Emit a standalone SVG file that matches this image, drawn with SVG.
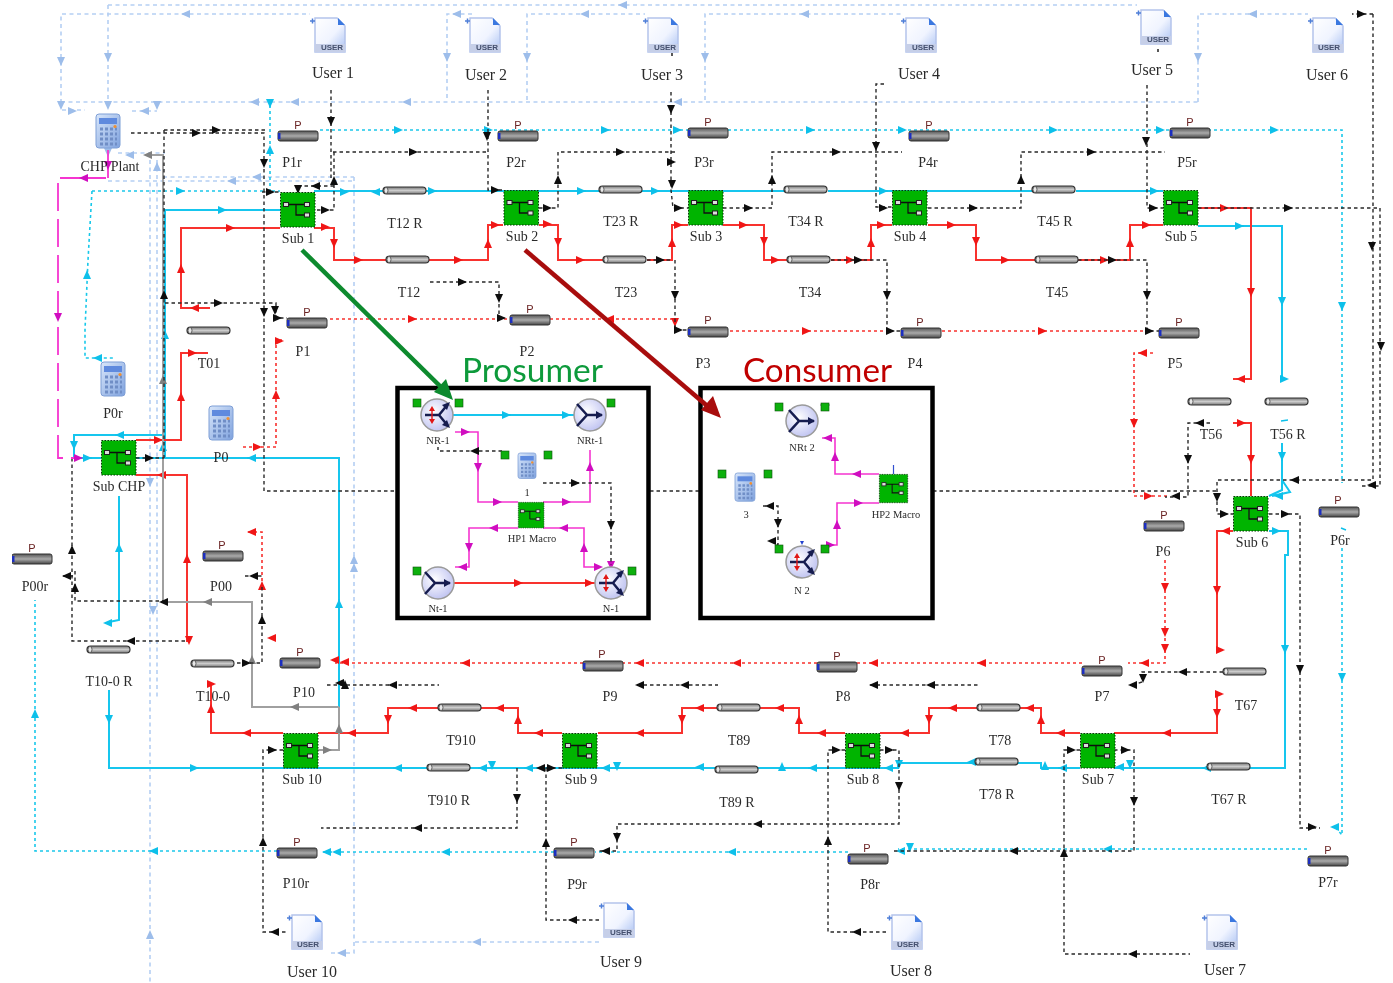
<svg xmlns="http://www.w3.org/2000/svg" width="1393" height="983" viewBox="0 0 1393 983">
<style>
path{fill:none}
.bd{stroke:#b5cff3;stroke-width:1.6;stroke-dasharray:4 3.5}
.cd{stroke:#18c8ea;stroke-width:1.6;stroke-dasharray:3 3}
.cs{stroke:#12c6ee;stroke-width:2}
.rs{stroke:#f8302e;stroke-width:2}
.rd{stroke:#f8302e;stroke-width:1.6;stroke-dasharray:3 3}
.gs{stroke:#a0a0a0;stroke-width:2}
.k{stroke:#2a2a2a;stroke-width:1.4;stroke-dasharray:3.5 3}
.ms{stroke:#f535d0;stroke-width:1.8}
.md{stroke:#f535d0;stroke-width:1.8;stroke-dasharray:28 8}
.mi{stroke:#f535d0;stroke-width:1.6}
.fb{fill:#9dbdea}.fc{fill:#10c0ea}.fr{fill:#f01818}.fg{fill:#808080}.fk{fill:#111}.fm{fill:#d010c0}
text{font-family:"Liberation Serif","Times New Roman",serif;fill:#2b2b2b;text-anchor:middle;dominant-baseline:central}
.t{font-size:14px}.u{font-size:16px}.s{font-size:10.5px}
.p{font-family:"Liberation Sans",Arial,sans-serif;font-size:11px;fill:#6a2424}
.ue{font-family:"Liberation Sans",Arial,sans-serif;font-size:8px;font-weight:bold;fill:#44506e}
.big{font-family:Lato,"Open Sans",sans-serif;font-size:33px;text-anchor:start;dominant-baseline:auto}
.box{fill:#fff;stroke:#000;stroke-width:4.5}
.sq{fill:#10b010;stroke:#0a500a;stroke-width:.6}
</style>
<defs>
<filter id="soft" x="0" y="0" width="100%" height="100%"><feGaussianBlur stdDeviation=".4"/></filter>
<polygon id="r" points="-4,-4 5,0 -4,4"/>
<polygon id="l" points="4,-4 -5,0 4,4"/>
<polygon id="u" points="-4,4 0,-5 4,4"/>
<polygon id="d" points="-4,-4 0,5 4,-4"/>
<linearGradient id="dg" x1="0" y1="0" x2="0" y2="1"><stop offset="0" stop-color="#555"/><stop offset=".5" stop-color="#aaa"/><stop offset="1" stop-color="#444"/></linearGradient>
<linearGradient id="lg" x1="0" y1="0" x2="0" y2="1"><stop offset="0" stop-color="#777"/><stop offset=".5" stop-color="#ccc"/><stop offset="1" stop-color="#777"/></linearGradient>
<linearGradient id="ug" x1="0" y1="0" x2="1" y2="1"><stop offset="0" stop-color="#fff"/><stop offset=".55" stop-color="#f0f4ff"/><stop offset="1" stop-color="#a8c0f2"/></linearGradient>
<linearGradient id="cg" x1="0" y1="0" x2="1" y2="1"><stop offset="0" stop-color="#d8e6fa"/><stop offset="1" stop-color="#7fa2de"/></linearGradient>
<radialGradient id="ng" cx=".4" cy=".4" r=".7"><stop offset="0" stop-color="#fff"/><stop offset="1" stop-color="#b9bdf0"/></radialGradient>
<g id="pd"><rect x="0" y="0" width="40" height="10" rx="2" fill="url(#dg)" stroke="#333"/><rect x="0" y="2" width="2.5" height="6" fill="#1a2fc0"/></g>
<g id="pl"><rect x="0" y="0" width="43" height="7" rx="3.5" fill="url(#lg)" stroke="#333" stroke-width="1.2"/><ellipse cx="3" cy="3.5" rx="2" ry="3" fill="#e8e8e8" stroke="#444" stroke-width=".8"/></g>
<g id="sub"><rect x=".5" y=".5" width="34.500" height="34.500" fill="#00b400" stroke="#0a300a" stroke-dasharray="1.500 1.500"/><path d="M6 12.500H27M16 12.500V23H27" stroke="#111" stroke-width="1.300"/><rect x="3.500" y="10.500" width="5" height="4" fill="#ddd" stroke="#222"/><rect x="24.500" y="10.500" width="5" height="4" fill="#ddd" stroke="#222"/><rect x="24.500" y="21" width="5" height="4" fill="#ddd" stroke="#222"/></g>
<g id="usr"><path d="M2 1H24L32 9V35H2Z" style="fill:url(#ug)" stroke="#b4c4ec" stroke-width="1.500"/><path d="M25 1L32 8H25Z" style="fill:#3a78e0"/><rect x="2" y="27" width="30" height="8" fill="#c6cfe8"/><path d="M-3 4H2M-.5 1.500V6.500" stroke="#4f7fd8" stroke-width="1.500"/></g>
<g id="cal"><rect x="0" y="0" width="24" height="34" rx="3" fill="url(#cg)" stroke="#7f9fd6"/><rect x="3" y="4" width="18" height="6" fill="#5f8ade"/><path d="M4 15H21M4 20H21M4 25H21M4 30H21" stroke="#6f8ec6" stroke-width="3" stroke-dasharray="3 2"/><circle cx="19" cy="12.500" r="1.600" fill="#f09030"/></g>
<g id="n3"><circle r="16" fill="url(#ng)" stroke="#9a9a9a" stroke-width="1.500"/><path d="M-13 -11L-3 0L-13 11M-3 0H12" stroke="#141c50" stroke-width="2.500"/><polygon points="13,0 6,-4 6,4" fill="#141c50"/></g>
<g id="n4"><circle r="16" fill="url(#ng)" stroke="#9a9a9a" stroke-width="1.500"/><path d="M-12 0H2L11 -11M2 0L11 11" stroke="#141c50" stroke-width="2.500"/><polygon points="13,-13 5,-10 10,-5" fill="#141c50"/><polygon points="13,13 5,10 10,5" fill="#141c50"/><path d="M-5 -6V6" stroke="#e01818" stroke-width="1.400"/><polygon points="-5,-9 -8,-4 -2,-4" fill="#e01818"/><polygon points="-5,9 -8,4 -2,4" fill="#e01818"/></g>
</defs>
<rect width="1393" height="983" fill="#fff"/>
<g id="diagram" filter="url(#soft)">
<g id="connectors">
<g id="light-blue" class="fb">
<path class="bd" d="M108 5H1137M61 103V14H310M108 5V103M61 102H1198M447 98V14H472M527 100V14H645M705 100V14H903M1198 102V14H1308M62 110H85M132 111H157M118 153H165M108 181H354M163 177H354M354 177V953H330M355 942H600M150 160V983M157 160V700"/>
<use href="#l" x="623" y="5"/><use href="#l" x="186" y="14"/><use href="#l" x="457" y="14"/><use href="#l" x="585" y="14"/><use href="#l" x="805" y="14"/><use href="#l" x="1253" y="14"/>
<use href="#d" x="61" y="61"/><use href="#d" x="108" y="57"/><use href="#d" x="447" y="57"/><use href="#d" x="527" y="57"/><use href="#d" x="705" y="57"/><use href="#d" x="1198" y="57"/>
<use href="#l" x="255" y="102"/><use href="#l" x="295" y="102"/><use href="#l" x="407" y="102"/><use href="#l" x="678" y="102"/>
<use href="#d" x="61" y="105"/><use href="#d" x="108" y="105"/><use href="#d" x="157" y="105"/><use href="#r" x="72" y="111"/><use href="#l" x="145" y="111"/>
<use href="#l" x="130" y="155"/><use href="#d" x="108" y="152"/><use href="#l" x="232" y="181"/><use href="#l" x="257" y="177"/><use href="#u" x="157" y="167"/>
<use href="#u" x="354" y="560"/><use href="#u" x="354" y="568"/><use href="#u" x="150" y="935"/><use href="#d" x="153" y="610"/><use href="#d" x="150" y="482"/><use href="#l" x="477" y="942"/><use href="#l" x="342" y="953"/>
</g>
<g id="cyan" class="fc">
<path class="cd" d="M320 130H1342V483M1342 548V835L1335 827M1307 849H898M848 852H595M554 852H320M277 851H35V600M92 191H280M92 191L88 260L85 330V358H113M270 105V190"/>
<use href="#r" x="398" y="130"/><use href="#r" x="605" y="130"/><use href="#r" x="677" y="130"/><use href="#r" x="810" y="130"/><use href="#r" x="902" y="130"/><use href="#r" x="1053" y="130"/><use href="#r" x="1160" y="130"/><use href="#r" x="1274" y="130"/><use href="#r" x="488" y="130"/>
<use href="#d" x="1342" y="306"/><use href="#d" x="1342" y="677"/><use href="#l" x="1335" y="827"/>
<use href="#l" x="1108" y="849"/><use href="#l" x="901" y="851"/><use href="#d" x="910" y="847"/><use href="#l" x="732" y="852"/><use href="#l" x="446" y="852"/><use href="#l" x="337" y="852"/><use href="#l" x="327" y="852"/><use href="#l" x="154" y="851"/>
<use href="#u" x="35" y="714"/><use href="#r" x="180" y="191"/><use href="#u" x="87" y="275"/><use href="#l" x="98" y="358"/><use href="#d" x="270" y="103"/><use href="#u" x="270" y="150"/>
<path class="cs" d="M280 210H165V458M314 191H383M426 191H599M642 191H784M828 191H1032M1076 191H1163M1198 226H1282V380M1282 443V490L1269 496M1282 480L1290 492L1272 496M1269 531H1288V555H1285V768H1114M1080 768H1041V763H898M1041 763H1018M975 763H898V768H845M845 768H109V690M136 458H339V707M74 458V435H165M74 458H101M119 496V620L109 622"/>
<use href="#r" x="222" y="210"/><use href="#r" x="344" y="192"/><use href="#l" x="376" y="192"/><use href="#r" x="432" y="191"/><use href="#r" x="581" y="191"/><use href="#r" x="655" y="191"/><use href="#r" x="883" y="191"/><use href="#r" x="1154" y="191"/>
<use href="#r" x="1239" y="226"/><use href="#d" x="1282" y="301"/><use href="#r" x="1284" y="379"/><use href="#d" x="1282" y="456"/><use href="#l" x="1279" y="496"/><use href="#r" x="1276" y="531"/>
<use href="#d" x="1285" y="649"/><use href="#l" x="1207" y="768"/><use href="#l" x="1120" y="767"/><use href="#d" x="1130" y="764"/><use href="#u" x="1045" y="766"/><use href="#l" x="972" y="762"/><use href="#l" x="1063" y="768"/><use href="#l" x="889" y="768"/><use href="#d" x="899" y="764"/>
<use href="#l" x="813" y="768"/><use href="#u" x="782" y="767"/><use href="#l" x="700" y="767"/><use href="#d" x="617" y="766"/><use href="#l" x="606" y="768"/><use href="#l" x="529" y="768"/><use href="#d" x="492" y="765"/><use href="#l" x="483" y="768"/><use href="#l" x="398" y="768"/><use href="#r" x="194" y="768"/><use href="#d" x="109" y="719"/>
<use href="#l" x="252" y="458"/><use href="#u" x="339" y="604"/><use href="#l" x="120" y="435"/><use href="#d" x="74" y="445"/><use href="#r" x="87" y="458"/><use href="#u" x="119" y="548"/><use href="#l" x="108" y="623"/><use href="#u" x="163" y="447"/><use href="#u" x="165" y="335"/>
<path d="M1281 421L1288 420M1341 528L1346 530" stroke="#10c0ea" stroke-width="1.500"/>
</g>
<g id="red" class="fr">
<path class="rs" d="M136 440H181V353H208M280 228H181V308H210M314 228H334V260H386M429 260H488V225H503M539 225H558V260H603M647 260H672V225H688M723 225H764V260H787M831 260H871V225H892M928 225H976V260H1035M1078 260H1130V225H1163M1198 208H1251V379H1233M1233 423H1251V496M1233 531H1217V650M1217 692V733H1114M1080 733H1041V708H1020M977 708H929V733H880M845 733H799V708H760M717 708H682V733H598M562 733H518V708H481M438 708H388V733H318M283 733H211V685M136 475H187V642"/>
<use href="#r" x="158" y="440"/><use href="#u" x="181" y="397"/><use href="#r" x="192" y="353"/><use href="#r" x="230" y="228"/><use href="#u" x="181" y="269"/><use href="#l" x="195" y="308"/>
<use href="#r" x="325" y="227"/><use href="#d" x="334" y="243"/><use href="#r" x="358" y="260"/><use href="#r" x="458" y="260"/><use href="#u" x="488" y="244"/><use href="#r" x="495" y="225"/>
<use href="#r" x="547" y="224"/><use href="#d" x="558" y="242"/><use href="#r" x="580" y="260"/><use href="#u" x="672" y="243"/><use href="#r" x="678" y="225"/>
<use href="#r" x="743" y="225"/><use href="#d" x="764" y="241"/><use href="#r" x="775" y="260"/><use href="#r" x="850" y="260"/><use href="#u" x="871" y="243"/><use href="#r" x="881" y="225"/>
<use href="#r" x="951" y="225"/><use href="#d" x="976" y="241"/><use href="#r" x="1005" y="260"/><use href="#r" x="1104" y="260"/><use href="#u" x="1130" y="243"/><use href="#r" x="1146" y="225"/>
<use href="#r" x="1224" y="208"/><use href="#d" x="1251" y="292"/><use href="#l" x="1241" y="379"/><use href="#r" x="1241" y="423"/><use href="#d" x="1251" y="459"/><use href="#l" x="1226" y="531"/><use href="#d" x="1217" y="590"/><use href="#r" x="1220" y="650"/>
<use href="#r" x="1219" y="694"/><use href="#d" x="1217" y="713"/><use href="#l" x="1167" y="733"/><use href="#l" x="1061" y="733"/><use href="#u" x="1041" y="720"/><use href="#l" x="1030" y="708"/><use href="#l" x="953" y="708"/><use href="#d" x="929" y="719"/><use href="#l" x="905" y="733"/>
<use href="#l" x="822" y="733"/><use href="#u" x="799" y="720"/><use href="#l" x="780" y="708"/><use href="#l" x="700" y="708"/><use href="#d" x="682" y="719"/><use href="#l" x="640" y="733"/>
<use href="#l" x="539" y="733"/><use href="#u" x="518" y="720"/><use href="#l" x="500" y="708"/><use href="#l" x="413" y="708"/><use href="#d" x="388" y="719"/><use href="#l" x="352" y="733"/>
<use href="#l" x="247" y="733"/><use href="#u" x="211" y="709"/><use href="#r" x="211" y="684"/><use href="#l" x="162" y="475"/><use href="#u" x="187" y="559"/><use href="#d" x="189" y="640"/>
<path class="rd" d="M330 319H510M550 319H675V327M730 331H889M942 331H1148M1153 353H1134V496H1170M1165 560V663H1128M1082 663H857M817 663H622M583 663H335M243 447H276V340H282M248 532H262V587"/>
<use href="#r" x="412" y="319"/><use href="#l" x="610" y="319"/><use href="#d" x="675" y="322"/><use href="#r" x="806" y="331"/><use href="#r" x="1042" y="331"/><use href="#l" x="1143" y="353"/><use href="#d" x="1134" y="423"/><use href="#r" x="1148" y="496"/>
<use href="#d" x="1165" y="587"/><use href="#d" x="1165" y="632"/><use href="#d" x="1165" y="648"/><use href="#l" x="1145" y="663"/><use href="#l" x="982" y="663"/><use href="#l" x="874" y="663"/><use href="#l" x="737" y="663"/><use href="#l" x="640" y="663"/><use href="#l" x="466" y="663"/><use href="#l" x="345" y="662"/><use href="#l" x="335" y="660"/>
<use href="#r" x="257" y="447"/><use href="#u" x="276" y="395"/><use href="#r" x="279" y="341"/><use href="#l" x="252" y="532"/><use href="#u" x="262" y="586"/><use href="#l" x="272" y="638"/>
</g>
<g id="grey" class="fg">
<path class="gs" d="M339 707H252V602H163V155H148M339 707V750H318"/>
<use href="#u" x="252" y="660"/><use href="#l" x="208" y="602"/><use href="#u" x="163" y="380"/><use href="#l" x="295" y="707"/><use href="#u" x="339" y="729"/><use href="#r" x="327" y="750"/><use href="#l" x="148" y="155"/>
</g>
<g id="black" class="fk">
<path class="k" d="M131 133H264V491H397M650 491H700M933 491H1217M164 130H268M164 130V458M331 90V180M333 152H488M334 152V210H314M298 186H334M262 192H280M488 90V190H503M539 208H558V152H678M671 92V190L673 208H688M723 208H772V152H902M884 84H876V207H892M928 208H1021V152H1165M1147 85V208H1163M430 282H499V318H505M647 260H672M675 260V330H688M831 260H887V331H901M1078 260H1147V331H1159M165 303H276V318H287M136 458H164M72 458V641H187M75 571V601H163M63 576H75M245 576H262M262 587V663H234M327 685H439M637 685H718M870 685H978M1198 208H1380V486H1362M1373 14H1352M1373 14V480H1217V514H1233M1269 514H1300V828H1320M1210 423H1188V497H1165M1223 672H1142V682L1130 686M283 750H263V932H287M562 768H537M546 768V920H600M517 768V828H321M880 750H899V824H617V851H598M845 750H828V932H888M1080 750H1064V954H1190M1114 750H1134V851H892"/>
<use href="#r" x="196" y="133"/><use href="#r" x="216" y="130"/><use href="#d" x="264" y="163"/><use href="#d" x="331" y="121"/><use href="#r" x="413" y="152"/><use href="#u" x="334" y="181"/><use href="#r" x="325" y="210"/><use href="#l" x="316" y="186"/><use href="#d" x="298" y="189"/><use href="#r" x="270" y="192"/>
<use href="#d" x="487" y="136"/><use href="#r" x="495" y="190"/><use href="#r" x="547" y="208"/><use href="#u" x="558" y="180"/><use href="#r" x="620" y="152"/><use href="#d" x="671" y="109"/><use href="#r" x="671" y="162"/><use href="#d" x="672" y="184"/><use href="#r" x="678" y="208"/>
<use href="#r" x="748" y="208"/><use href="#u" x="772" y="180"/><use href="#r" x="836" y="152"/><use href="#d" x="876" y="146"/><use href="#r" x="883" y="208"/><use href="#r" x="973" y="208"/><use href="#u" x="1021" y="180"/><use href="#r" x="1091" y="152"/><use href="#d" x="1146" y="141"/><use href="#r" x="1153" y="208"/>
<use href="#r" x="462" y="282"/><use href="#d" x="499" y="298"/><use href="#r" x="501" y="318"/><use href="#r" x="660" y="260"/><use href="#d" x="675" y="295"/><use href="#r" x="678" y="330"/><use href="#r" x="858" y="260"/><use href="#d" x="887" y="295"/><use href="#r" x="890" y="331"/><use href="#r" x="1112" y="260"/><use href="#d" x="1147" y="295"/><use href="#r" x="1149" y="331"/>
<use href="#r" x="218" y="303"/><use href="#d" x="264" y="312"/><use href="#d" x="275" y="310"/><use href="#r" x="277" y="318"/><use href="#u" x="164" y="295"/><use href="#r" x="149" y="458"/>
<use href="#u" x="72" y="550"/><use href="#u" x="75" y="588"/><use href="#l" x="131" y="641"/><use href="#l" x="67" y="576"/><use href="#l" x="254" y="576"/><use href="#u" x="262" y="620"/><use href="#r" x="246" y="663"/><use href="#l" x="164" y="602"/>
<use href="#l" x="393" y="685"/><use href="#l" x="340" y="683"/><use href="#u" x="345" y="685"/><use href="#l" x="640" y="685"/><use href="#l" x="685" y="685"/><use href="#l" x="874" y="685"/><use href="#l" x="931" y="685"/>
<use href="#r" x="1361" y="14"/><use href="#d" x="1372" y="246"/><use href="#r" x="1288" y="208"/><use href="#d" x="1381" y="346"/><use href="#l" x="1372" y="485"/><use href="#l" x="1295" y="480"/><use href="#d" x="1217" y="497"/><use href="#r" x="1224" y="514"/><use href="#r" x="1285" y="514"/><use href="#d" x="1300" y="669"/><use href="#r" x="1312" y="827"/>
<use href="#l" x="1200" y="423"/><use href="#d" x="1188" y="459"/><use href="#l" x="1176" y="496"/><use href="#l" x="1183" y="672"/><use href="#d" x="1143" y="678"/><use href="#l" x="1133" y="685"/>
<use href="#r" x="272" y="750"/><use href="#u" x="263" y="842"/><use href="#l" x="275" y="932"/><use href="#l" x="541" y="768"/><use href="#r" x="551" y="768"/><use href="#u" x="546" y="843"/><use href="#l" x="573" y="920"/><use href="#d" x="517" y="798"/><use href="#l" x="418" y="828"/>
<use href="#r" x="889" y="750"/><use href="#d" x="899" y="786"/><use href="#l" x="758" y="824"/><use href="#d" x="617" y="837"/><use href="#l" x="606" y="851"/><use href="#r" x="836" y="750"/><use href="#u" x="828" y="841"/><use href="#l" x="857" y="932"/>
<use href="#r" x="1071" y="750"/><use href="#u" x="1064" y="853"/><use href="#l" x="1133" y="954"/><use href="#r" x="1125" y="750"/><use href="#d" x="1134" y="801"/><use href="#l" x="1014" y="851"/>
<path d="M1158 49V52M672 53V56" stroke="#222" stroke-width="1.500"/>
</g>
<g id="magenta" class="fm">
<path class="ms" d="M108 150V178M106 178H60"/><path class="md" d="M58 183V458H75"/>
<use href="#d" x="108" y="165"/><use href="#l" x="84" y="178"/><use href="#d" x="58" y="317"/><use href="#r" x="78" y="458"/>
</g>
</g>
<g id="prosumer-box"><rect class="box" x="397.500" y="388" width="251" height="230"/><text class="big" x="462" y="382" style="fill:#0a9a3a" textLength="141" lengthAdjust="spacingAndGlyphs">Prosumer</text></g>
<g id="consumer-box"><rect class="box" x="700.500" y="388" width="232" height="230"/><text class="big" x="743" y="382" style="fill:#c00000" textLength="149" lengthAdjust="spacingAndGlyphs">Consumer</text></g>
<g id="inner-connectors">
<g class="fc"><path class="cs" d="M453 415H574" stroke-width="1.500"/><use href="#r" x="506" y="415"/><use href="#r" x="566" y="415"/></g>
<g class="fr"><path class="rs" d="M454 583H595"/><use href="#r" x="518" y="583"/><use href="#r" x="589" y="583"/></g>
<g class="fm"><path class="mi" d="M455 432H478V502H518M543 502H590V450M518 528H469V567H455M543 528H584V567H600M879 474H835V438H822M879 503H837V545H826"/>
<use href="#r" x="465" y="432"/><use href="#d" x="478" y="467"/><use href="#r" x="497" y="502"/><use href="#r" x="566" y="502"/><use href="#u" x="590" y="467"/><use href="#l" x="494" y="528"/><use href="#d" x="469" y="547"/><use href="#l" x="463" y="567"/><use href="#l" x="564" y="528"/><use href="#u" x="584" y="548"/><use href="#r" x="598" y="567"/><use href="#d" x="611" y="565"/>
<use href="#l" x="857" y="474"/><use href="#u" x="835" y="457"/><use href="#l" x="828" y="438"/><use href="#r" x="858" y="503"/><use href="#u" x="837" y="525"/><use href="#r" x="830" y="545"/></g>
<g class="fk"><path class="k" d="M502 451H438V447M543 483H611V565M763 506H778V545L772 541"/><use href="#l" x="475" y="451"/><use href="#r" x="575" y="483"/><use href="#d" x="611" y="525"/><use href="#l" x="770" y="506"/><use href="#d" x="778" y="523"/><use href="#l" x="772" y="541"/></g>
<path d="M893.500 465V474" stroke="#3050d0" stroke-width="1.200"/><path d="M820 405H830" stroke="#888" stroke-width="1"/>
</g>
<g id="user1"><use href="#usr" x="313" y="17"/><text class="ue" x="332" y="47">USER</text><text class="u" x="333" y="72">User 1</text></g>
<g id="user2"><use href="#usr" x="468" y="17"/><text class="ue" x="487" y="47">USER</text><text class="u" x="486" y="74">User 2</text></g>
<g id="user3"><use href="#usr" x="646" y="17"/><text class="ue" x="665" y="47">USER</text><text class="u" x="662" y="74">User 3</text></g>
<g id="user4"><use href="#usr" x="904" y="17"/><text class="ue" x="923" y="47">USER</text><text class="u" x="919" y="73">User 4</text></g>
<g id="user5"><use href="#usr" x="1139" y="9"/><text class="ue" x="1158" y="39">USER</text><text class="u" x="1152" y="69">User 5</text></g>
<g id="user6"><use href="#usr" x="1311" y="17"/><text class="ue" x="1329" y="47">USER</text><text class="u" x="1327" y="74">User 6</text></g>
<g id="user10"><use href="#usr" x="290" y="914"/><text class="ue" x="308" y="944">USER</text><text class="u" x="312" y="971">User 10</text></g>
<g id="user9"><use href="#usr" x="602" y="902"/><text class="ue" x="621" y="932">USER</text><text class="u" x="621" y="961">User 9</text></g>
<g id="user8"><use href="#usr" x="890" y="914"/><text class="ue" x="908" y="944">USER</text><text class="u" x="911" y="970">User 8</text></g>
<g id="user7"><use href="#usr" x="1205" y="914"/><text class="ue" x="1224" y="944">USER</text><text class="u" x="1225" y="969">User 7</text></g>
<g id="chp-plant"><use href="#cal" x="96" y="114"/><text class="t" x="110" y="166">CHP Plant</text></g>
<g id="p0r"><use href="#cal" x="101" y="362"/><text class="t" x="113" y="413">P0r</text></g>
<g id="p0"><use href="#cal" x="209" y="406"/><text class="t" x="221" y="457">P0</text></g>
<g id="sub1"><use href="#sub" x="280" y="192"/><text class="t" x="298" y="238">Sub 1</text></g>
<g id="sub2"><use href="#sub" x="503.500" y="190"/><text class="t" x="522" y="236">Sub 2</text></g>
<g id="sub3"><use href="#sub" x="688" y="190"/><text class="t" x="706" y="236">Sub 3</text></g>
<g id="sub4"><use href="#sub" x="892" y="190"/><text class="t" x="910" y="236">Sub 4</text></g>
<g id="sub5"><use href="#sub" x="1163" y="190"/><text class="t" x="1181" y="236">Sub 5</text></g>
<g id="sub6"><use href="#sub" x="1233" y="496"/><text class="t" x="1252" y="542">Sub 6</text></g>
<g id="subchp"><use href="#sub" x="101" y="440"/><text class="t" x="119" y="486">Sub CHP</text></g>
<g id="sub7"><use href="#sub" x="1080" y="733"/><text class="t" x="1098" y="779">Sub 7</text></g>
<g id="sub8"><use href="#sub" x="845" y="733"/><text class="t" x="863" y="779">Sub 8</text></g>
<g id="sub9"><use href="#sub" x="562" y="733"/><text class="t" x="581" y="779">Sub 9</text></g>
<g id="sub10"><use href="#sub" x="283" y="733"/><text class="t" x="302" y="779">Sub 10</text></g>
<g id="P1r"><use href="#pd" x="278" y="131"/><text class="p" x="298" y="125">P</text><text class="t" x="292" y="162">P1r</text></g>
<g id="P2r"><use href="#pd" x="498" y="131"/><text class="p" x="518" y="125">P</text><text class="t" x="516" y="162">P2r</text></g>
<g id="P3r"><use href="#pd" x="688" y="128"/><text class="p" x="708" y="122">P</text><text class="t" x="704" y="162">P3r</text></g>
<g id="P4r"><use href="#pd" x="909" y="131"/><text class="p" x="929" y="125">P</text><text class="t" x="928" y="162">P4r</text></g>
<g id="P5r"><use href="#pd" x="1170" y="128"/><text class="p" x="1190" y="122">P</text><text class="t" x="1187" y="162">P5r</text></g>
<g id="P1"><use href="#pd" x="287" y="318"/><text class="p" x="307" y="312">P</text><text class="t" x="303" y="351">P1</text></g>
<g id="P2"><use href="#pd" x="510" y="315"/><text class="p" x="530" y="309">P</text><text class="t" x="527" y="351">P2</text></g>
<g id="P3"><use href="#pd" x="688" y="327"/><text class="p" x="708" y="320">P</text><text class="t" x="703" y="363">P3</text></g>
<g id="P4"><use href="#pd" x="901" y="328"/><text class="p" x="920" y="322">P</text><text class="t" x="915" y="363">P4</text></g>
<g id="P5"><use href="#pd" x="1159" y="328"/><text class="p" x="1179" y="322">P</text><text class="t" x="1175" y="363">P5</text></g>
<g id="P6"><use href="#pd" x="1144" y="521"/><text class="p" x="1164" y="515">P</text><text class="t" x="1163" y="551">P6</text></g>
<g id="P6r"><use href="#pd" x="1319" y="507"/><text class="p" x="1338" y="500">P</text><text class="t" x="1340" y="540">P6r</text></g>
<g id="P00r"><use href="#pd" x="12" y="554"/><text class="p" x="32" y="548">P</text><text class="t" x="35" y="586">P00r</text></g>
<g id="P00"><use href="#pd" x="203" y="551"/><text class="p" x="222" y="545">P</text><text class="t" x="221" y="586">P00</text></g>
<g id="P10"><use href="#pd" x="280" y="658"/><text class="p" x="300" y="652">P</text><text class="t" x="304" y="692">P10</text></g>
<g id="P9"><use href="#pd" x="583" y="661"/><text class="p" x="602" y="654">P</text><text class="t" x="610" y="696">P9</text></g>
<g id="P8"><use href="#pd" x="817" y="662"/><text class="p" x="837" y="656">P</text><text class="t" x="843" y="696">P8</text></g>
<g id="P7"><use href="#pd" x="1082" y="666"/><text class="p" x="1102" y="660">P</text><text class="t" x="1102" y="696">P7</text></g>
<g id="P10r"><use href="#pd" x="277" y="848"/><text class="p" x="297" y="842">P</text><text class="t" x="296" y="883">P10r</text></g>
<g id="P9r"><use href="#pd" x="554" y="848"/><text class="p" x="574" y="842">P</text><text class="t" x="577" y="884">P9r</text></g>
<g id="P8r"><use href="#pd" x="848" y="854"/><text class="p" x="867" y="848">P</text><text class="t" x="870" y="884">P8r</text></g>
<g id="P7r"><use href="#pd" x="1308" y="856"/><text class="p" x="1328" y="850">P</text><text class="t" x="1328" y="882">P7r</text></g>
<g id="T12R"><use href="#pl" x="383" y="187"/><text class="t" x="405" y="223">T12 R</text></g>
<g id="T12"><use href="#pl" x="386" y="256"/><text class="t" x="409" y="292">T12</text></g>
<g id="T23R"><use href="#pl" x="599" y="186"/><text class="t" x="621" y="221">T23 R</text></g>
<g id="T23"><use href="#pl" x="603" y="256"/><text class="t" x="626" y="292">T23</text></g>
<g id="T34R"><use href="#pl" x="784" y="186"/><text class="t" x="806" y="221">T34 R</text></g>
<g id="T34"><use href="#pl" x="787" y="256"/><text class="t" x="810" y="292">T34</text></g>
<g id="T45R"><use href="#pl" x="1032" y="186"/><text class="t" x="1055" y="221">T45 R</text></g>
<g id="T45"><use href="#pl" x="1035" y="256"/><text class="t" x="1057" y="292">T45</text></g>
<g id="T01"><use href="#pl" x="187" y="327"/><text class="t" x="209" y="363">T01</text></g>
<g id="T56"><use href="#pl" x="1188" y="398"/><text class="t" x="1211" y="434">T56</text></g>
<g id="T56R"><use href="#pl" x="1265" y="398"/><text class="t" x="1288" y="434">T56 R</text></g>
<g id="T67"><use href="#pl" x="1223" y="668"/><text class="t" x="1246" y="705">T67</text></g>
<g id="T10-0R"><use href="#pl" x="87" y="646"/><text class="t" x="109" y="681">T10-0 R</text></g>
<g id="T10-0"><use href="#pl" x="191" y="660"/><text class="t" x="213" y="696">T10-0</text></g>
<g id="T910"><use href="#pl" x="438" y="704"/><text class="t" x="461" y="740">T910</text></g>
<g id="T910R"><use href="#pl" x="427" y="764"/><text class="t" x="449" y="800">T910 R</text></g>
<g id="T89"><use href="#pl" x="717" y="704"/><text class="t" x="739" y="740">T89</text></g>
<g id="T89R"><use href="#pl" x="715" y="766"/><text class="t" x="737" y="802">T89 R</text></g>
<g id="T78"><use href="#pl" x="977" y="704"/><text class="t" x="1000" y="740">T78</text></g>
<g id="T78R"><use href="#pl" x="975" y="758"/><text class="t" x="997" y="794">T78 R</text></g>
<g id="T67R"><use href="#pl" x="1207" y="763"/><text class="t" x="1229" y="799">T67 R</text></g>
<g id="NR-1"><use href="#n4" transform="translate(437 415)"/><rect class="sq" x="413" y="399" width="8" height="8"/><rect class="sq" x="455" y="399" width="8" height="8"/><text class="s" x="438" y="440">NR-1</text></g>
<g id="NRt-1"><use href="#n3" transform="translate(590 415)"/><rect class="sq" x="607" y="399" width="8" height="8"/><text class="s" x="590" y="440">NRt-1</text></g>
<g id="Nt-1"><use href="#n3" transform="translate(438 583)"/><rect class="sq" x="413" y="567" width="8" height="8"/><text class="s" x="438" y="608">Nt-1</text></g>
<g id="N-1"><use href="#n4" transform="translate(611 583)"/><rect class="sq" x="628" y="567" width="8" height="8"/><text class="s" x="611" y="608">N-1</text></g>
<g id="calc1"><use href="#cal" transform="translate(518 453) scale(.75)"/><rect class="sq" x="501" y="451" width="8" height="8"/><rect class="sq" x="544" y="451" width="8" height="8"/><text class="s" x="527" y="492">1</text></g>
<g id="HP1"><use href="#sub" transform="translate(518 502) scale(.74)"/><text class="s" x="532" y="538">HP1 Macro</text></g>
<g id="NRt2"><use href="#n3" transform="translate(802 421)"/><rect class="sq" x="775" y="403" width="8" height="8"/><rect class="sq" x="821" y="403" width="8" height="8"/><text class="s" x="802" y="447">NRt 2</text></g>
<g id="N2"><use href="#n4" transform="translate(802 562)"/><rect class="sq" x="775" y="545" width="8" height="8"/><rect class="sq" x="821" y="545" width="8" height="8"/><text class="s" x="802" y="590">N 2</text><path d="M800 541H804L802 545Z" style="fill:#2040d0"/></g>
<g id="calc3"><use href="#cal" transform="translate(735 473) scale(.83)"/><rect class="sq" x="718" y="470" width="8" height="8"/><rect class="sq" x="764" y="470" width="8" height="8"/><text class="s" x="746" y="514">3</text></g>
<g id="HP2"><use href="#sub" transform="translate(879 474) scale(.82)"/><text class="s" x="896" y="514">HP2 Macro</text></g>
<g id="big-arrows">
<path d="M302 250L446 392" stroke="#0a8a2e" stroke-width="4.500"/><polygon points="453,400 434,392 446,379" fill="#0a8a2e"/>
<path d="M525 250L712 410" stroke="#a80c0c" stroke-width="4.500"/><polygon points="721,418 701,410 713,396" fill="#a80c0c"/>
</g>
</g>
</svg>
